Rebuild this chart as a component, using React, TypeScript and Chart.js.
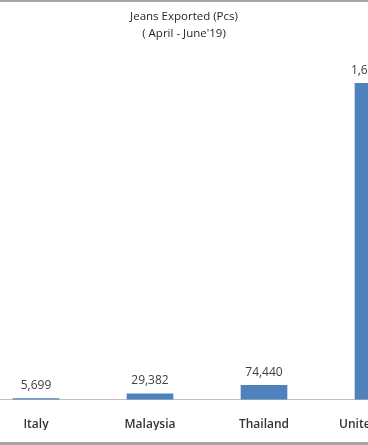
import React, { useEffect, useRef } from 'react';
import { Chart, registerables } from 'chart.js';

Chart.register(...registerables);

const categories = ['Italy', 'Malaysia', 'Thailand', 'United States'];
const exportedPcs = [5699, 29382, 74440, 1646000];
const titleLines = ['Jeans Exported (Pcs)', "( April - June'19)"];
const yMin = 0;
const yMax = 1800000;

const FONT = '"Open Sans", "Noto Sans", sans-serif';

const valueLabels = {
  id: 'valueLabels',
  afterDatasetsDraw(chart: any) {
    const ctx = chart.ctx;
    const meta = chart.getDatasetMeta(0);
    const data = chart.data.datasets[0].data as number[];
    ctx.save();
    ctx.font = `12px ${FONT}`;
    ctx.fillStyle = '#404040';
    ctx.textAlign = 'center';
    ctx.textBaseline = 'middle';
    meta.data.forEach((bar: any, i: number) => {
      ctx.fillText(Number(data[i]).toLocaleString('en-US'), bar.x, bar.y - 13);
    });
    ctx.restore();
  },
};

export default function App() {
  const ref = useRef<HTMLCanvasElement | null>(null);

  useEffect(() => {
    if (!ref.current) return;
    const chart = new Chart(ref.current, {
      type: 'bar',
      data: {
        labels: categories,
        datasets: [
          {
            data: exportedPcs,
            backgroundColor: '#4f81bd',
            borderWidth: 0,
            barThickness: 46,
          },
        ],
      },
      options: {
        responsive: false,
        animation: false,
        layout: { padding: { top: 0, bottom: 12, left: 0, right: 0 } },
        plugins: {
          legend: { display: false },
          tooltip: { enabled: false },
          title: {
            display: true,
            text: titleLines,
            color: '#262626',
            font: { family: FONT, size: 11.5, weight: 'normal', lineHeight: 17 / 11.5 },
            padding: { top: 8.5, bottom: 11.2 },
          },
        },
        scales: {
          x: {
            offset: true,
            grid: { display: false, drawTicks: false, tickLength: 0 },
            border: { display: true, color: '#bfbfbf', width: 1 },
            ticks: {
              color: '#333333',
              padding: 17.5,
              maxRotation: 0,
              autoSkip: false,
              font: { family: FONT, size: 12, weight: 600, lineHeight: 1.2 },
            },
            afterFit: (scale: any) => {
              scale.height = 30.4;
            },
          },
          y: {
            display: true,
            min: yMin,
            max: yMax,
            grid: { display: false, drawTicks: false },
            border: { display: false },
            ticks: { display: false },
            afterFit: (scale: any) => {
              scale.width = 46;
            },
          },
        },
      },
      plugins: [valueLabels],
    });
    return () => chart.destroy();
  }, []);

  return (
    <div
      style={{
        position: 'fixed',
        left: 0,
        top: 0,
        width: 368,
        height: 445,
        overflow: 'hidden',
        background: '#ffffff',
      }}
    >
      <canvas
        ref={ref}
        width={502}
        height={442}
        style={{ position: 'absolute', left: -67, top: 0, width: 502, height: 442 }}
      />
      <div style={{ position: 'absolute', left: 0, top: 0, width: 368, height: 2, background: '#a6a6a6' }} />
      <div style={{ position: 'absolute', left: 0, top: 442, width: 368, height: 3, background: '#a6a6a6' }} />
    </div>
  );
}
